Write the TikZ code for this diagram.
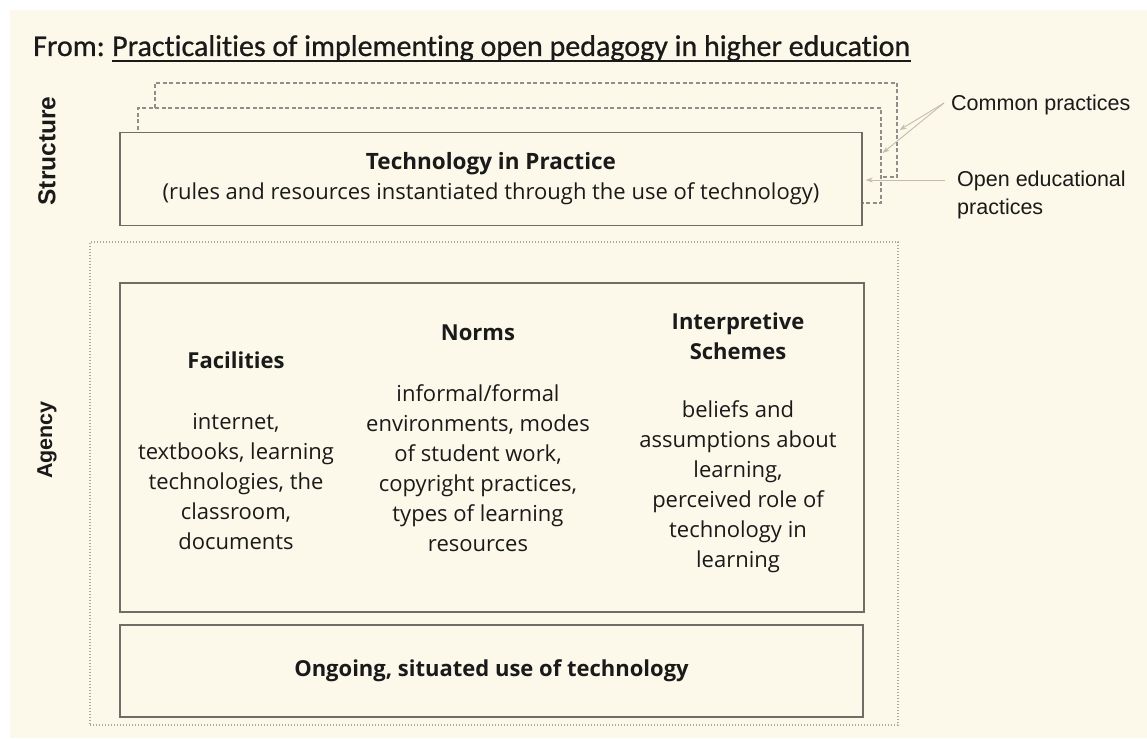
\documentclass[tikz,border=0pt]{standalone}
\usepackage{fontspec}
\setmainfont{Open Sans}
\newfontfamily\titlefont[FakeBold=0.7,Ligatures=NoCommon]{Carlito}
\newfontfamily\labelfont{Liberation Sans}
\usetikzlibrary{arrows.meta}
\definecolor{paper}{HTML}{FCF8EA}
\definecolor{ink}{HTML}{1A1A1A}
\definecolor{frame}{HTML}{6E6D66}
\definecolor{ghost}{HTML}{8E8E8A}
\definecolor{dots}{HTML}{A8A8A4}
\definecolor{pointer}{HTML}{C4BDAE}

\begin{document}
\begin{tikzpicture}[x=1pt,y=-1pt,
  solidbox/.style={draw=frame, line width=1.4pt, fill=paper, inner sep=0pt},
  ghostbox/.style={draw=ghost, dash pattern=on 4pt off 2.5pt, line width=1.2pt, fill=paper, inner sep=0pt},
  regionbox/.style={draw=dots, dash pattern=on 1.2pt off 1.8pt, line width=1.2pt, inner sep=0pt},
  bodytext/.style={text=ink, align=center, inner sep=0pt, font=\fontsize{22}{30}\selectfont},
  sidelabel/.style={text=ink, rotate=90, inner sep=0pt, font=\labelfont\bfseries},
  notelabel/.style={text=ink, align=left, inner sep=0pt, font=\labelfont\fontsize{21.5}{28}\selectfont},
  pointerline/.style={draw=pointer, line width=0.9pt, -{Stealth[length=7pt,width=5pt]}}
]
\useasboundingbox (0,0) rectangle (1147,738);
\fill[white] (0,0) rectangle (1147,738);
\fill[paper] (10,10) rectangle (1147,738);

% title line
\node[anchor=base west, inner sep=0pt, text=ink, font=\titlefont\fontsize{30}{34}\selectfont] (from) at (33,56) {From:};
\node[anchor=base west, inner sep=0pt, text=ink, font=\titlefont\fontsize{30}{34}\selectfont] (paper title) at ([xshift=7]from.base east) {Practicalities of implementing open pedagogy in higher education};
\draw[ink, line width=1.8pt] ([yshift=-5]paper title.base west) -- ([yshift=-5]paper title.base east);

% structure: stacked practice layers
\node[ghostbox, minimum width=742pt, minimum height=94pt] (back2) at (526,130) {};
\node[ghostbox, minimum width=743pt, minimum height=95pt] (back1) at (509.5,155.5) {};
\node[solidbox, minimum width=742pt, minimum height=93pt, bodytext, align=center] (tip) at (491,179)
  {{\fontsize{22.5}{30}\selectfont\textbf{Technology in Practice}}\\{\fontsize{22}{30}\selectfont(rules and resources instantiated through the use of technology)}};

\node[sidelabel, font=\labelfont\bfseries\fontsize{24.5}{26}\selectfont] (structure) at (47,151) {Structure};

% notes on the right
\node[notelabel, anchor=west] (common) at (951,105) {Common practices};
\node[notelabel, anchor=north west] (oep) at (957,171) {Open educational\\practices};
\coordinate (common tail) at (944,103);
\coordinate (oep tail) at (945,180);
\draw[pointerline] (common tail) -- ([xshift=2]back2.east);
\draw[pointerline] (common tail) -- ([xshift=1,yshift=2.5]back1.east);
\draw[pointerline] (oep tail) -- ([xshift=3,yshift=-1]tip.east);

% agency region
\node[regionbox, minimum width=808pt, minimum height=483pt] (agency box) at (494,483.5) {};
\node[sidelabel, font=\labelfont\bfseries\fontsize{21.5}{24}\selectfont] (agency) at (47,440) {Agency};

\node[solidbox, minimum width=744pt, minimum height=329pt] (resources) at (492,447.5) {};
\node[solidbox, minimum width=743pt, minimum height=92pt, bodytext] (use) at (491.5,671)
  {\textbf{Ongoing, situated use of technology}};

\node[bodytext] (facilities) at (236,451)
  {\textbf{Facilities}\\[31pt]internet,\\textbooks, learning\\technologies, the\\classroom,\\documents};
\node[bodytext] (norms) at (478,438)
  {\textbf{Norms}\\[31pt]informal/formal\\environments, modes\\of student work,\\copyright practices,\\types of learning\\resources};
\node[bodytext] (schemes) at (738,443)
  {\textbf{Interpretive}\\\textbf{Schemes}\\[28pt]beliefs and\\assumptions about\\learning,\\perceived role of\\technology in\\learning};
\end{tikzpicture}
\end{document}
